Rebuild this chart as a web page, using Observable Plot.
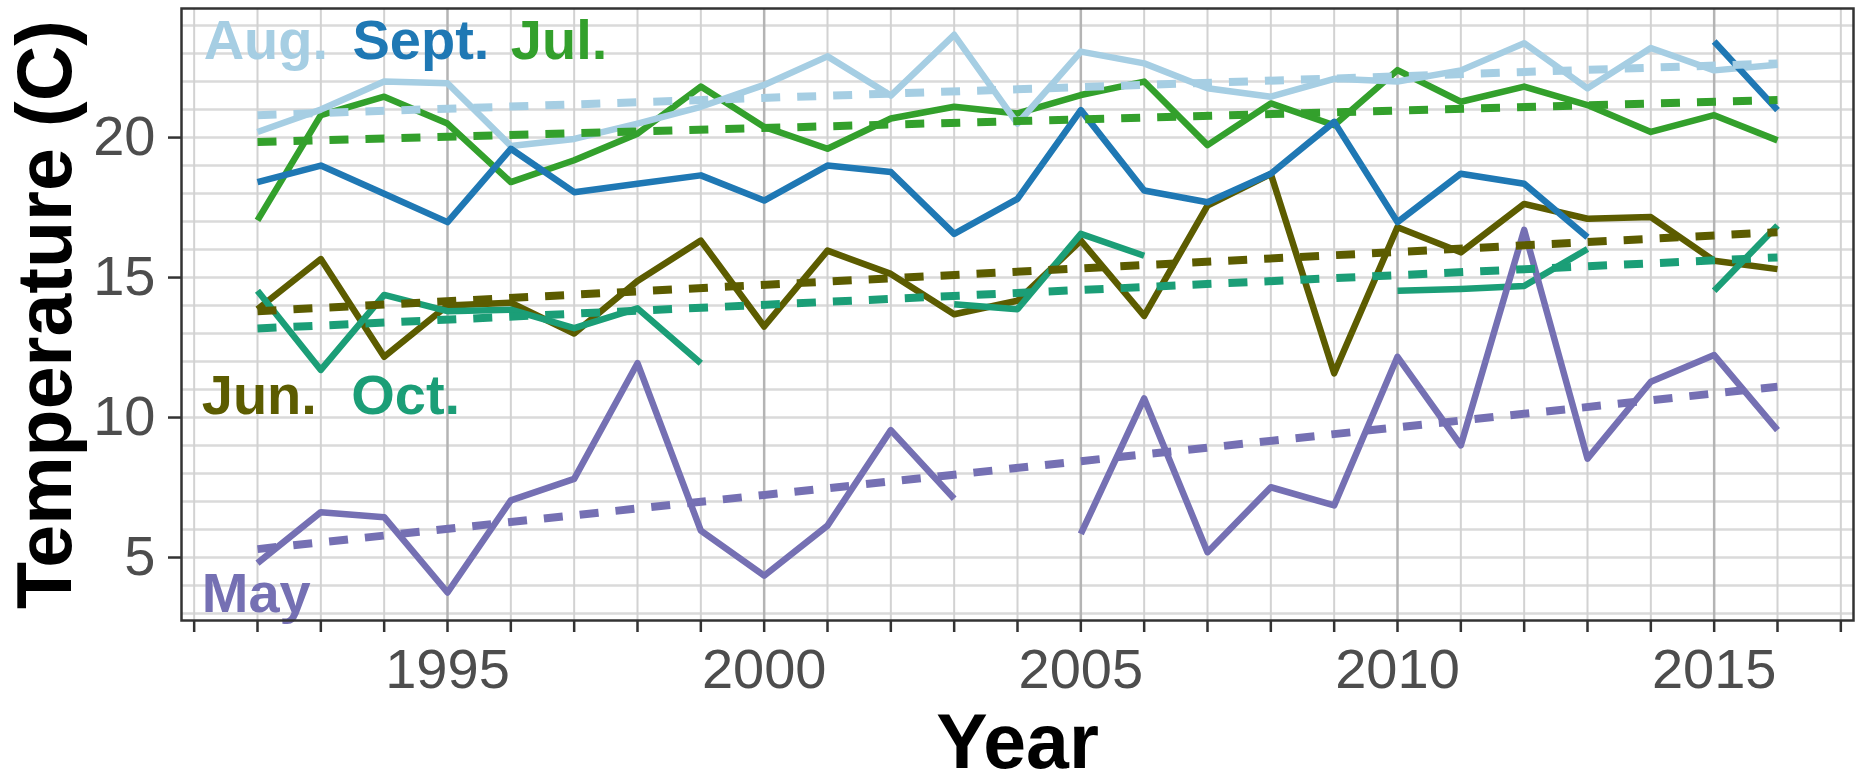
<!DOCTYPE html>
<html>
<head>
<meta charset="utf-8">
<script src="https://cdn.jsdelivr.net/npm/d3@7"></script>
<script src="https://cdn.jsdelivr.net/npm/@observablehq/plot@0.6"></script>
<style>
  html, body { margin: 0; padding: 0; background: #fff; }
  #chart svg { display: block; }
</style>
</head>
<body>
<div id="chart"></div>
<script>
// ---- data ----
const years = [1992, 1993, 1994, 1995, 1996, 1997, 1998, 1999, 2000, 2001, 2002, 2003, 2004,
               2005, 2006, 2007, 2008, 2009, 2010, 2011, 2012, 2013, 2014, 2015, 2016];

const may  = [4.8, 6.62, 6.44, 3.75, 7.04, 7.81, 11.94, 5.96, 4.35, 6.14, 9.55, 7.1, null,
              5.84, 10.68, 5.19, 7.51, 6.86, 12.17, 9.01, 16.7, 8.53, 11.28, 12.23, 9.55];
const jun  = [13.87, 15.66, 12.17, 14.0, 14.1, 13.0, 14.88, 16.32, 13.25, 15.96, 15.13, 13.69, 14.17,
              16.32, 13.63, 17.57, 18.7, 11.58, 16.8, 15.9, 17.63, 17.1, 17.16, 15.6, 15.3];
const jul  = [17.04, 20.8, 21.46, 20.5, 18.41, 19.19, 20.14, 21.82, 20.38, 19.6, 20.68, 21.1, 20.86,
              21.52, 22.0, 19.73, 21.22, 20.44, 22.41, 21.28, 21.82, 21.16, 20.2, 20.8, 19.9];
const aug  = [20.2, 21.0, 22.0, 21.94, 19.7, 19.95, 20.5, 21.1, 21.88, 22.9, 21.5, 23.67, 20.5,
              23.07, 22.65, 21.76, 21.46, 22.1, 22.0, 22.4, 23.37, 21.76, 23.2, 22.4, 22.6];
const sept = [18.41, 19.0, 17.99, 16.98, 19.6, 18.05, 18.35, 18.65, 17.75, 19.0, 18.77, 16.56, 17.81,
              20.98, 18.11, 17.69, 18.71, 20.56, 16.98, 18.71, 18.35, 16.44, null, 23.43, 20.98];
const oct  = [14.53, 11.7, 14.38, 13.8, 13.85, 13.19, 13.9, 11.94, null, null, null, 14.05, 13.87,
              16.56, 15.78, null, null, null, 14.53, 14.59, 14.7, 16.02, null, 14.53, 16.86];

const months = ["Jun.", "Oct.", "Jul.", "Aug.", "Sept.", "May"];
const monthColors = ["#5c5c00", "#1b9e77", "#33a02c", "#a6cee3", "#1f78b4", "#7570b3"];
const monthSeries = [jun, oct, jul, aug, sept, may];

// dashed linear trend lines (end points)
const trendMonths = ["Jun.", "Oct.", "Jul.", "Aug.", "May"];
const trendYears = [1992, 2016];
const trendStart = [13.8, 13.18, 19.84, 20.8, 5.3];
const trendEnd   = [16.62, 15.72, 21.34, 22.65, 11.1];

// in-panel month labels
const labelText = ["Aug.", "Sept.", "Jul.", "Jun.", "Oct.", "May"];
const labelYear = [1991.15, 1993.5, 1996.0, 1991.12, 1993.48, 1991.12];
const labelTemp = [22.82, 22.82, 22.82, 10.14, 10.14, 3.04];

// axes
const xTickYears = [1991, 1992, 1993, 1994, 1995, 1996, 1997, 1998, 1999, 2000, 2001, 2002, 2003, 2004,
                    2005, 2006, 2007, 2008, 2009, 2010, 2011, 2012, 2013, 2014, 2015, 2016, 2017];
const xTickLabels = [1995, 2000, 2005, 2010, 2015];
const yTicks = [5, 10, 15, 20];
const yGrid = [3, 4, 5, 6, 7, 8, 9, 10, 11, 12, 13, 14, 15, 16, 17, 18, 19, 20, 21, 22, 23, 24];

// ---- tables built from arrays ----
const table = [];
months.forEach((m, k) => {
  years.forEach((yr, i) => table.push({month: m, year: yr, temp: monthSeries[k][i]}));
});
const trendTable = [];
trendMonths.forEach((m, k) => {
  trendTable.push({month: m, year: trendYears[0], temp: trendStart[k]});
  trendTable.push({month: m, year: trendYears[1], temp: trendEnd[k]});
});
const labels = labelText.map((t, i) => ({text: t, year: labelYear[i], temp: labelTemp[i]}));

const minorYears = xTickYears.filter(d => !xTickLabels.includes(d));

const chart = Plot.plot({
  width: 1862,
  height: 774,
  marginLeft: 181,
  marginRight: 9,
  marginTop: 8,
  marginBottom: 154,
  x: {domain: [1990.8, 2017.2]},
  y: {domain: [2.75, 24.61]},
  color: {domain: months, range: monthColors},
  style: {fontFamily: "'Liberation Sans', Arial, Helvetica, sans-serif", background: "#fff"},
  marks: [
    Plot.gridY(yGrid, {stroke: "#dadada", strokeOpacity: 1, strokeWidth: 2.5}),
    Plot.gridX(minorYears, {stroke: "#d2d2d2", strokeOpacity: 1, strokeWidth: 2}),
    Plot.gridX(xTickLabels, {stroke: "#b4b4b4", strokeOpacity: 1, strokeWidth: 2.5}),
    Plot.line(table, {x: "year", y: "temp", z: "month", stroke: "month",
                      strokeWidth: 6.5, strokeLinecap: "butt", strokeLinejoin: "round"}),
    Plot.line(trendTable, {x: "year", y: "temp", z: "month", stroke: "month",
                           strokeWidth: 8, strokeLinecap: "butt", strokeDasharray: "19,17"}),
    Plot.text(labels, {x: "year", y: "temp", text: "text", fill: "text",
                       textAnchor: "start", lineAnchor: "bottom", fontSize: 56, fontWeight: "bold"}),
    Plot.frame({stroke: "#333333", strokeWidth: 2.5}),
    Plot.axisX({ticks: xTickYears, tickSize: 12, fill: "none", label: null,
                stroke: "#333333", strokeWidth: 2.5}),
    Plot.axisX({ticks: xTickLabels, tickSize: 12, tickPadding: 16, stroke: "none",
                tickFormat: d => String(d), fontSize: 56, fill: "#4d4d4d", label: null}),
    Plot.axisY({ticks: yTicks, tickSize: 13, tickPadding: 13,
                fontSize: 56, stroke: "#333333", strokeWidth: 2.5, fill: "#4d4d4d", label: null}),
    Plot.text(["Year"], {text: d => d, frameAnchor: "bottom", dy: 147, lineAnchor: "bottom",
                         textAnchor: "middle", fontSize: 77, fontWeight: "bold", fill: "#000"}),
    Plot.text(["Temperature (C)"], {text: d => d, frameAnchor: "left", rotate: -90, dx: -111,
                         textAnchor: "middle", lineAnchor: "bottom", fontSize: 77, fontWeight: "bold", fill: "#000"})
  ]
});
document.getElementById("chart").appendChild(chart);
</script>
</body>
</html>
